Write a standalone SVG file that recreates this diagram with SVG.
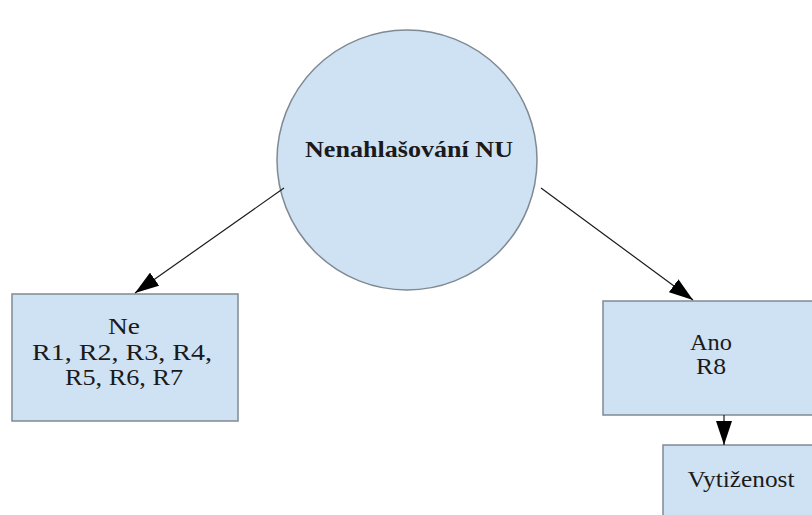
<svg xmlns="http://www.w3.org/2000/svg" width="812" height="515" viewBox="0 0 812 515">
  <style>
    .shape { fill: #cfe2f3; stroke: #7f8a93; stroke-width: 1.5; }
    .lbl { font-family: "Liberation Serif", serif; font-size: 23px; fill: #1a1a1a; text-anchor: middle; }
    .title { font-weight: bold; font-size: 23px; }
    .edge { stroke: #1a1a1a; stroke-width: 1.2; fill: none; marker-end: url(#arrowBig); }
  </style>
  <defs>
    <marker id="arrowBig" viewBox="0 0 24 16" refX="24" refY="8" markerWidth="24" markerHeight="16" markerUnits="userSpaceOnUse" orient="auto">
      <path d="M0,0 L24,8 L0,16 z" fill="#000"/>
    </marker>
  </defs>

  <rect width="812" height="515" fill="#ffffff"/>

  <g id="root">
    <circle class="shape" cx="407" cy="160" r="130"/>
    <text class="lbl title" x="409" y="157" textLength="208" lengthAdjust="spacingAndGlyphs">Nenahlašování NU</text>
  </g>

  <g id="ne">
    <rect class="shape" x="12" y="294" width="226" height="127"/>
    <text class="lbl" x="124" y="334" textLength="32" lengthAdjust="spacingAndGlyphs">Ne</text>
    <text class="lbl" x="122" y="360" textLength="180" lengthAdjust="spacingAndGlyphs">R1, R2, R3, R4,</text>
    <text class="lbl" x="124" y="385" textLength="118" lengthAdjust="spacingAndGlyphs">R5, R6, R7</text>
  </g>

  <g id="ano">
    <rect class="shape" x="603" y="301" width="215" height="114"/>
    <text class="lbl" x="711" y="350" textLength="42" lengthAdjust="spacingAndGlyphs">Ano</text>
    <text class="lbl" x="711" y="374" textLength="30" lengthAdjust="spacingAndGlyphs">R8</text>
  </g>

  <g id="vytizenost">
    <rect class="shape" x="663" y="445" width="160" height="80"/>
    <text class="lbl" x="741" y="487" textLength="107" lengthAdjust="spacingAndGlyphs">Vytiženost</text>
  </g>

  <g id="connectors">
    <line class="edge" x1="284" y1="188" x2="135" y2="293"/>
    <line class="edge" x1="541" y1="188" x2="693" y2="300"/>
    <line class="edge" x1="724" y1="415" x2="724" y2="445"/>
  </g>
</svg>
